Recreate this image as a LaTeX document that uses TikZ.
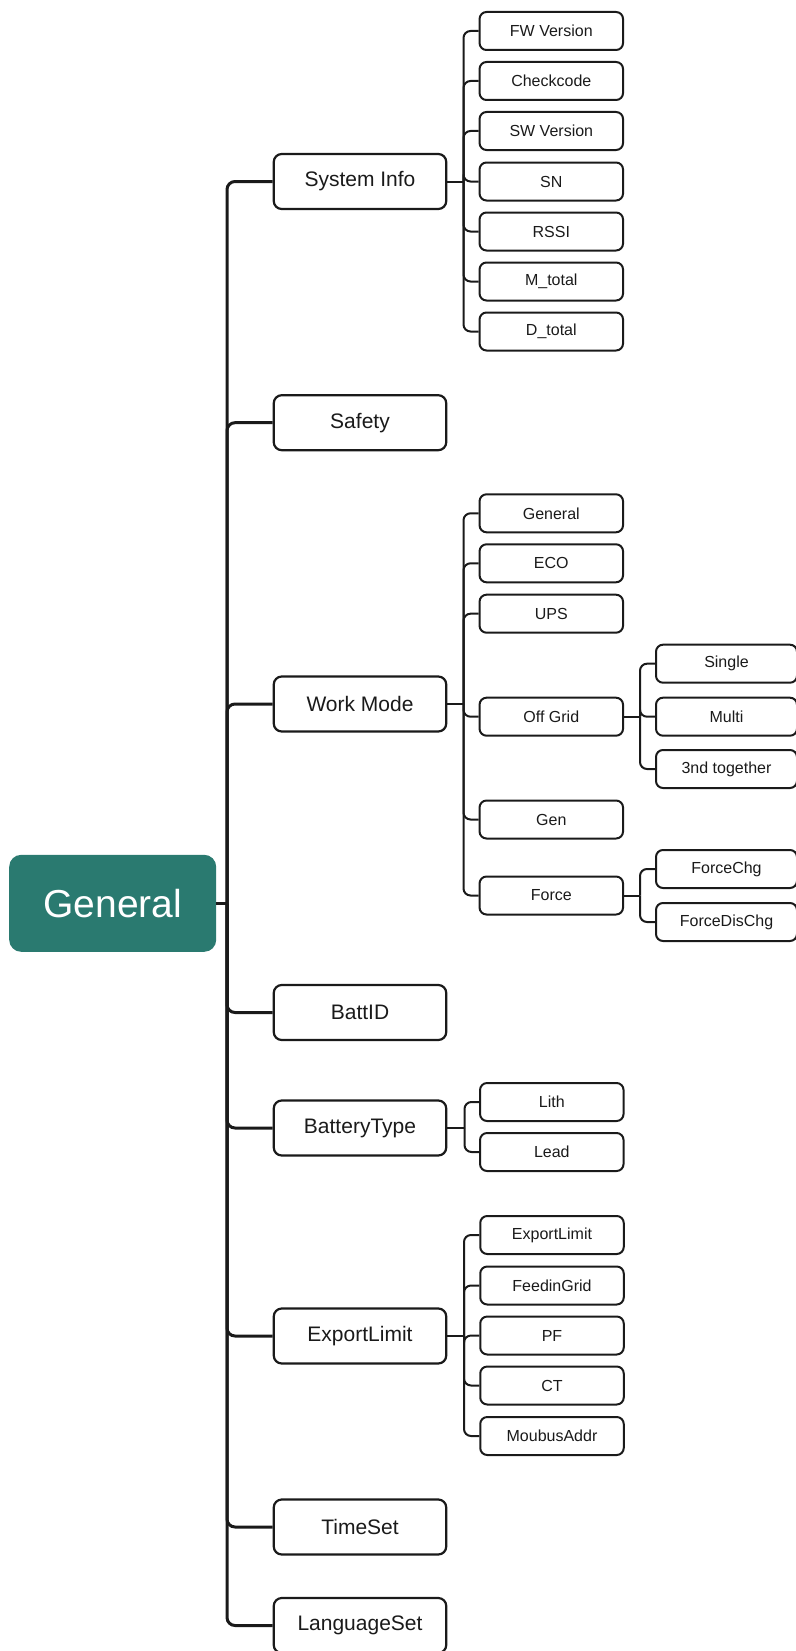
\documentclass[tikz,border=0pt]{standalone}
\usepackage{fontspec}
\setmainfont{Liberation Sans}
\definecolor{teal1}{RGB}{42,122,112}
\definecolor{ink}{RGB}{26,26,26}
\begin{document}
\begin{tikzpicture}[x=1pt,y=-1pt,
  rootbox/.style={rectangle, rounded corners=12pt, fill=teal1, text=white,
    font=\fontsize{39}{46}\selectfont, minimum width=207pt, minimum height=97pt, inner sep=0pt},
  lvlone/.style={rectangle, rounded corners=8pt, draw=ink, line width=2.2pt, text=ink,
    font=\fontsize{21}{25}\selectfont, minimum width=172.5pt, minimum height=55pt, inner sep=0pt},
  leafbox/.style={rectangle, rounded corners=7pt, draw=ink, line width=2pt, text=ink,
    font=\fontsize{16}{19}\selectfont, minimum width=143.5pt, minimum height=38pt, inner sep=0pt},
  sublbox/.style={leafbox, minimum width=141pt},
  trunkline/.style={draw=ink, line width=3pt, rounded corners=8pt},
  busline/.style={draw=ink, line width=2pt, rounded corners=7pt}]
\useasboundingbox (0,0) rectangle (795,1651);

% root
\node[rootbox] (root) at (112.7,903.3) {General};
\coordinate (tr) at (227,903.3);

% level one
\node[lvlone] (sys)  at (360,181.5)  {System Info};
\node[lvlone] (saf)  at (360,422.7)  {Safety};
\node[lvlone] (wm)   at (360,704)    {Work Mode};
\node[lvlone] (bid)  at (360,1012.5) {BattID};
\node[lvlone] (bt)   at (360,1128)   {BatteryType};
\node[lvlone] (el)   at (360,1336)   {ExportLimit};
\node[lvlone] (ts)   at (360,1527)   {TimeSet};
\node[lvlone] (ls)   at (360,1625.5) {LanguageSet};

\draw[trunkline] (root.east) -- (tr);
\foreach \c in {sys,saf,wm,bid,bt,el,ts,ls}
  \draw[trunkline] (tr) |- (\c.west);

% System Info children
\coordinate (bsys) at (463.5,181.5);
\node[leafbox] (s1) at (551.3,31)  {FW Version};
\node[leafbox] (s2) at (551.3,81)  {Checkcode};
\node[leafbox] (s3) at (551.3,131) {SW Version};
\node[leafbox] (s4) at (551.3,181.5) {SN};
\node[leafbox] (s5) at (551.3,231.5) {RSSI};
\node[leafbox] (s6) at (551.3,281.5) {M\_total};
\node[leafbox] (s7) at (551.3,331.5) {D\_total};
\draw[busline] (sys.east) -- (bsys);
\foreach \c in {s1,s2,s3,s4,s5,s6,s7}
  \draw[busline] (bsys) |- (\c.west);

% Work Mode children
\coordinate (bwm) at (463.5,704);
\node[leafbox] (w1) at (551.3,513.3) {General};
\node[leafbox] (w2) at (551.3,563.3) {ECO};
\node[leafbox] (w3) at (551.3,613.7) {UPS};
\node[leafbox] (w4) at (551.3,716.7) {Off Grid};
\node[leafbox] (w5) at (551.3,819.5) {Gen};
\node[leafbox] (w6) at (551.3,895.5) {Force};
\draw[busline] (wm.east) -- (bwm);
\foreach \c in {w1,w2,w3,w4,w5,w6}
  \draw[busline] (bwm) |- (\c.west);

% Off Grid children
\coordinate (bog) at (640,716.7);
\node[sublbox] (o1) at (726.5,663.7) {Single};
\node[sublbox] (o2) at (726.5,716.7) {Multi};
\node[sublbox] (o3) at (726.5,769)   {3nd together};
\draw[busline] (w4.east) -- (bog);
\foreach \c in {o1,o2,o3}
  \draw[busline] (bog) |- (\c.west);

% Force children
\coordinate (bfo) at (640,895.5);
\node[sublbox] (f1) at (726.5,869) {ForceChg};
\node[sublbox] (f2) at (726.5,922) {ForceDisChg};
\draw[busline] (w6.east) -- (bfo);
\foreach \c in {f1,f2}
  \draw[busline] (bfo) |- (\c.west);

% BatteryType children
\coordinate (bbt) at (464.5,1128);
\node[leafbox] (b1) at (551.8,1102) {Lith};
\node[leafbox] (b2) at (551.8,1152) {Lead};
\draw[busline] (bt.east) -- (bbt);
\foreach \c in {b1,b2}
  \draw[busline] (bbt) |- (\c.west);

% ExportLimit children
\coordinate (bel) at (464,1336);
\node[leafbox] (e1) at (552,1235)   {ExportLimit};
\node[leafbox] (e2) at (552,1285.5) {FeedinGrid};
\node[leafbox] (e3) at (552,1335.5) {PF};
\node[leafbox] (e4) at (552,1385.5) {CT};
\node[leafbox] (e5) at (552,1436)   {MoubusAddr};
\draw[busline] (el.east) -- (bel);
\foreach \c in {e1,e2,e3,e4,e5}
  \draw[busline] (bel) |- (\c.west);
\end{tikzpicture}
\end{document}
